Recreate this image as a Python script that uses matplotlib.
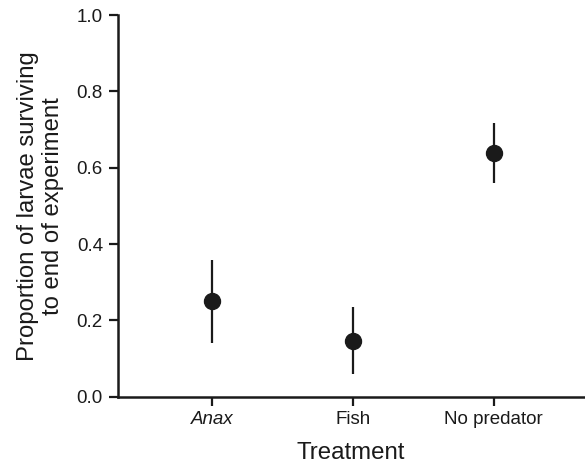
import matplotlib
matplotlib.use("Agg")
import matplotlib.pyplot as plt

categories = ["Anax", "Fish", "No predator"]
means = [0.251, 0.147, 0.639]
upper = [0.358, 0.234, 0.716]
lower = [0.141, 0.059, 0.559]
yticks = [0.0, 0.2, 0.4, 0.6, 0.8, 1.0]

plt.rcParams['font.family'] = ['Liberation Sans', 'DejaVu Sans']

fig = plt.figure(figsize=(5.85, 4.63), dpi=100)
ax = fig.add_axes([0.2009, 0.1432, 0.797, 0.8244])

x = list(range(len(categories)))
yerr = [[m - l for m, l in zip(means, lower)], [u - m for m, u in zip(means, upper)]]
ax.errorbar(x, means, yerr=yerr, fmt='o', color='#1a1a1a', ms=11.5,
            elinewidth=1.6, capsize=0, clip_on=False, zorder=3)

ax.set_xlim(-0.67, 2.64)
ax.set_ylim(0, 1.0)
ax.set_yticks(yticks)
ax.set_yticklabels([f"{v:.1f}" for v in yticks])
ax.set_xticks(x)
ax.set_xticklabels(categories)
ax.get_xticklabels()[0].set_style('italic')

for s in ['top', 'right']:
    ax.spines[s].set_visible(False)
for s in ['left', 'bottom']:
    ax.spines[s].set_linewidth(1.8)
    ax.spines[s].set_color('#1a1a1a')

ax.tick_params(axis='both', direction='out', length=6.5, width=1.6,
               labelsize=13.5, colors='#1a1a1a', pad=4)

ax.set_ylabel("Proportion of larvae surviving\nto end of experiment",
              fontsize=17.2, color='#1a1a1a', labelpad=9, linespacing=1.2)
ax.set_xlabel("Treatment", fontsize=17.3, color='#1a1a1a', labelpad=10)

fig.savefig("out.png", dpi=100)
